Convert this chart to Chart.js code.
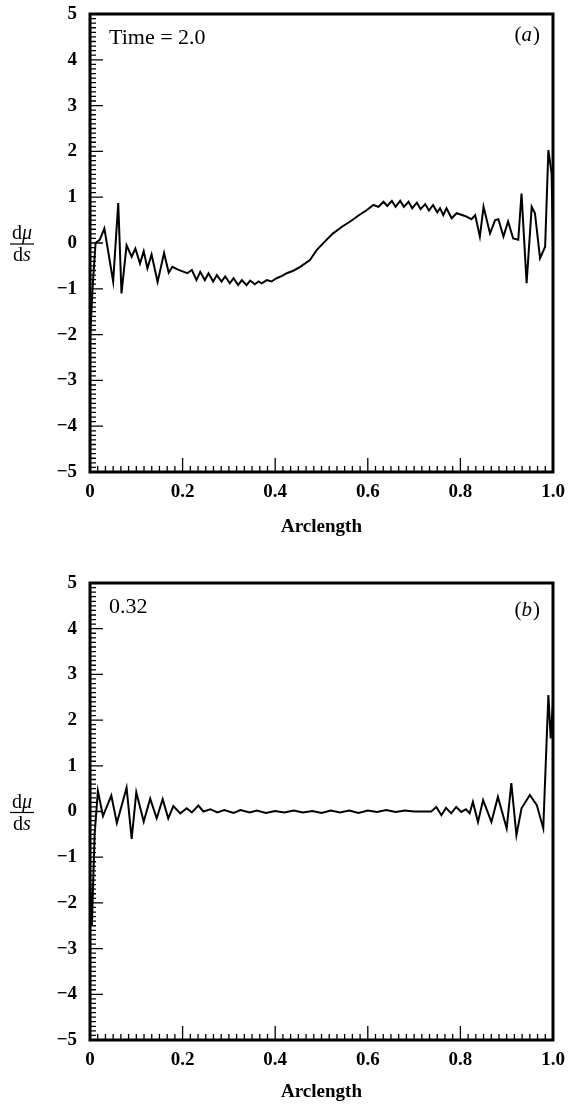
<!DOCTYPE html>
<html><head><meta charset="utf-8">
<script src="https://cdn.jsdelivr.net/npm/chart.js@4.4.0/dist/chart.umd.min.js"></script>
<style>
html,body{margin:0;padding:0;background:#fff;width:568px;height:1105px;overflow:hidden}
#wa{position:absolute;left:0;top:0;width:568px;height:540px}
#wb{position:absolute;left:0;top:540px;width:568px;height:565px}
canvas{display:block}
</style></head><body>
<div id="wa"><canvas id="ca" width="568" height="540"></canvas></div>
<div id="wb"><canvas id="cb" width="568" height="565"></canvas></div>
<script>
// ---- data ----
const arcA = [0, 0.006, 0.012, 0.021, 0.031, 0.05, 0.061, 0.068, 0.079, 0.090, 0.098, 0.108, 0.116, 0.124, 0.133, 0.146, 0.160, 0.170, 0.178, 0.19, 0.20, 0.21,
  0.22, 0.230, 0.238, 0.248, 0.256, 0.266, 0.274, 0.284, 0.292, 0.302, 0.31, 0.32, 0.328, 0.338, 0.346, 0.356, 0.364, 0.371, 0.382, 0.392, 0.403,
  0.415, 0.425, 0.44, 0.454, 0.475, 0.49, 0.507, 0.525, 0.545, 0.562, 0.58, 0.598, 0.612, 0.623, 0.634, 0.642, 0.652, 0.660, 0.670, 0.678, 0.688,
  0.696, 0.706, 0.714, 0.724, 0.732, 0.741, 0.750, 0.756, 0.763, 0.770, 0.781, 0.792, 0.810, 0.824, 0.832, 0.842, 0.85, 0.864, 0.875, 0.882,
  0.893, 0.903, 0.914, 0.925, 0.932, 0.943, 0.954, 0.961, 0.972, 0.983, 0.99, 0.997, 1.0];
const dmuA = [-2.1, -0.9, 0.0, 0.07, 0.32, -0.84, 0.87, -1.10, -0.05, -0.30, -0.12, -0.45, -0.18, -0.55, -0.25, -0.85, -0.22, -0.65, -0.52, -0.58, -0.62, -0.66,
  -0.59, -0.81, -0.63, -0.81, -0.66, -0.84, -0.70, -0.84, -0.73, -0.88, -0.77, -0.92, -0.81, -0.92, -0.82, -0.90, -0.84, -0.88, -0.81, -0.84, -0.77,
  -0.72, -0.66, -0.60, -0.52, -0.37, -0.15, 0.03, 0.21, 0.36, 0.47, 0.60, 0.72, 0.83, 0.79, 0.90, 0.81, 0.92, 0.79, 0.92, 0.79, 0.90,
  0.76, 0.88, 0.74, 0.85, 0.71, 0.83, 0.67, 0.76, 0.61, 0.76, 0.54, 0.65, 0.59, 0.52, 0.61, 0.14, 0.79, 0.21, 0.50, 0.52,
  0.14, 0.47, 0.10, 0.07, 1.08, -0.88, 0.79, 0.65, -0.33, -0.08, 2.03, 1.52, -0.2];

const arcB = [0, 0.004, 0.010, 0.017, 0.028, 0.046, 0.058, 0.079, 0.090, 0.100, 0.116, 0.130, 0.144, 0.157, 0.169, 0.180, 0.195, 0.209, 0.220, 0.234, 0.245,
  0.26, 0.275, 0.29, 0.31, 0.325, 0.345, 0.36, 0.38, 0.40, 0.42, 0.44, 0.46, 0.48, 0.50, 0.52, 0.54, 0.56, 0.58, 0.60, 0.62, 0.64, 0.66, 0.68, 0.70, 0.72,
  0.737, 0.748, 0.759, 0.769, 0.780, 0.791, 0.802, 0.812, 0.820, 0.827, 0.838, 0.849, 0.860, 0.867, 0.881, 0.900, 0.910, 0.921, 0.932, 0.950, 0.965, 0.979,
  0.990, 0.995, 1.0];
const dmuB = [-1.5, -2.5, -0.5, 0.45, -0.10, 0.35, -0.25, 0.52, -0.60, 0.42, -0.22, 0.28, -0.15, 0.27, -0.15, 0.12, -0.04, 0.07, -0.02, 0.13, 0.0,
  0.05, -0.02, 0.03, -0.03, 0.03, -0.02, 0.02, -0.03, 0.01, -0.02, 0.02, -0.02, 0.01, -0.03, 0.02, -0.02, 0.02, -0.03, 0.02, -0.01, 0.03, -0.01, 0.02, 0.0, 0.0,
  0.0, 0.10, -0.08, 0.08, -0.04, 0.10, -0.01, 0.05, -0.04, 0.21, -0.23, 0.25, -0.04, -0.23, 0.32, -0.37, 0.62, -0.52, 0.07, 0.36, 0.14, -0.37,
  2.55, 1.6, 2.4];

const yTickValues = [-5, -4, -3, -2, -1, 0, 1, 2, 3, 4, 5];
const yTickLabels = ['\u22125', '\u22124', '\u22123', '\u22122', '\u22121', '0', '1', '2', '3', '4', '5'];
const xTickValues = [0, 0.2, 0.4, 0.6, 0.8, 1.0];
const xTickLabels = ['0', '0.2', '0.4', '0.6', '0.8', '1.0'];
const panelNotes = ['Time = 2.0', '0.32'];
const panelTags = ['a', 'b'];
const xTitle = 'Arclength';

const SERIF = '"Liberation Serif", "DejaVu Serif", serif';

const framePlugin = {
  id: 'frame',
  afterDatasetsDraw(chart, args, opts) {
    const ctx = chart.ctx, a = chart.chartArea, x = chart.scales.x, y = chart.scales.y;
    ctx.save();
    ctx.strokeStyle = '#000';
    ctx.lineWidth = 1.3;
    ctx.beginPath();
    for (let k = 0; k <= 100; k++) {
      const py = y.getPixelForValue(-5 + k * 0.1);
      const len = (k % 10 === 0) ? 13 : 6;
      ctx.moveTo(a.left, py); ctx.lineTo(a.left + len, py);
    }
    for (let k = 0; k <= 60; k++) {
      const px = x.getPixelForValue(k / 60);
      const len = (k % 12 === 0) ? 14 : 6;
      ctx.moveTo(px, a.bottom); ctx.lineTo(px, a.bottom - len);
    }
    ctx.stroke();
    ctx.lineWidth = 3;
    ctx.strokeRect(a.left, a.top, a.right - a.left, a.bottom - a.top);

    // note text
    ctx.fillStyle = '#000';
    ctx.textBaseline = 'middle';
    ctx.textAlign = 'left';
    ctx.font = '22px ' + SERIF;
    ctx.fillText(opts.note, opts.noteX, opts.noteY);

    // panel tag "(a)"
    const fN = '21px ' + SERIF, fI = 'italic 21px ' + SERIF;
    ctx.font = fN; const wP = ctx.measureText('(').width, wQ = ctx.measureText(')').width;
    ctx.font = fI; const wT = ctx.measureText(opts.tag).width;
    let tx = opts.tagRight - (wP + wT + wQ + 1);
    ctx.font = fN; ctx.fillText('(', tx, opts.tagY); tx += wP;
    ctx.font = fI; ctx.fillText(opts.tag, tx, opts.tagY); tx += wT + 1;
    ctx.font = fN; ctx.fillText(')', tx, opts.tagY);

    // y-axis label d mu / d s
    const y0 = y.getPixelForValue(0) + 1;
    const cx = 22;
    const fs = 20;
    const nF = fs + 'px ' + SERIF, iF = 'italic ' + fs + 'px ' + SERIF;
    ctx.font = nF; const wd = ctx.measureText('d').width;
    ctx.font = iF; const wmu = ctx.measureText('\u03bc').width, ws = ctx.measureText('s').width;
    ctx.textBaseline = 'alphabetic';
    let sx = cx - (wd + wmu) / 2;
    ctx.font = nF; ctx.fillText('d', sx, y0 - 5);
    ctx.font = iF; ctx.fillText('\u03bc', sx + wd, y0 - 5);
    sx = cx - (wd + ws) / 2;
    ctx.font = nF; ctx.fillText('d', sx, y0 + 17);
    ctx.font = iF; ctx.fillText('s', sx + wd, y0 + 17);
    ctx.lineWidth = 1.2;
    ctx.beginPath(); ctx.moveTo(cx - 12, y0); ctx.lineTo(cx + 12, y0); ctx.stroke();
    ctx.restore();
  }
};

function makeChart(id, arc, dmu, padTop, axisH, idx, noteY, tagY) {
  return new Chart(document.getElementById(id), {
    type: 'scatter',
    data: { datasets: [{
      data: arc.map((v, i) => ({ x: v, y: dmu[i] })),
      showLine: true, borderColor: '#000', borderWidth: 2, pointRadius: 0, tension: 0, fill: false
    }] },
    options: {
      responsive: false, animation: false, devicePixelRatio: 1,
      layout: { padding: { top: padTop, right: 15, left: 0, bottom: 0 } },
      plugins: {
        legend: { display: false }, tooltip: { enabled: false },
        frame: { note: panelNotes[idx], tag: panelTags[idx], noteX: 109, noteY: noteY, tagRight: 540, tagY: tagY }
      },
      scales: {
        x: {
          type: 'linear', min: 0, max: 1,
          grid: { display: false, drawTicks: false }, border: { display: false },
          ticks: {
            stepSize: 0.2, padding: 9, color: '#000', maxRotation: 0, autoSkip: false,
            font: { family: SERIF, size: 19, weight: 'bold' },
            callback: v => { const i = xTickValues.findIndex(t => Math.abs(t - v) < 1e-6); return i < 0 ? '' : xTickLabels[i]; }
          },
          title: { display: true, text: xTitle, color: '#000', font: { family: SERIF, size: 19, weight: 'bold' }, padding: { top: 0, bottom: 2 } },
          afterFit: s => { s.height = axisH; s.paddingLeft = 0; s.paddingRight = 0; }
        },
        y: {
          type: 'linear', min: -5, max: 5,
          grid: { display: false, drawTicks: false }, border: { display: false },
          ticks: {
            stepSize: 1, padding: 13, color: '#000',
            font: { family: SERIF, size: 19, weight: 'bold' },
            callback: v => { const i = yTickValues.findIndex(t => Math.abs(t - v) < 1e-6); return i < 0 ? '' : yTickLabels[i]; }
          },
          afterFit: s => { s.width = 90; s.paddingTop = 0; s.paddingBottom = 0; }
        }
      }
    },
    plugins: [framePlugin]
  });
}

makeChart('ca', arcA, dmuA, 14, 68, 0, 38, 35);
makeChart('cb', arcB, dmuB, 43, 65, 1, 67, 70);
</script>
</body></html>
